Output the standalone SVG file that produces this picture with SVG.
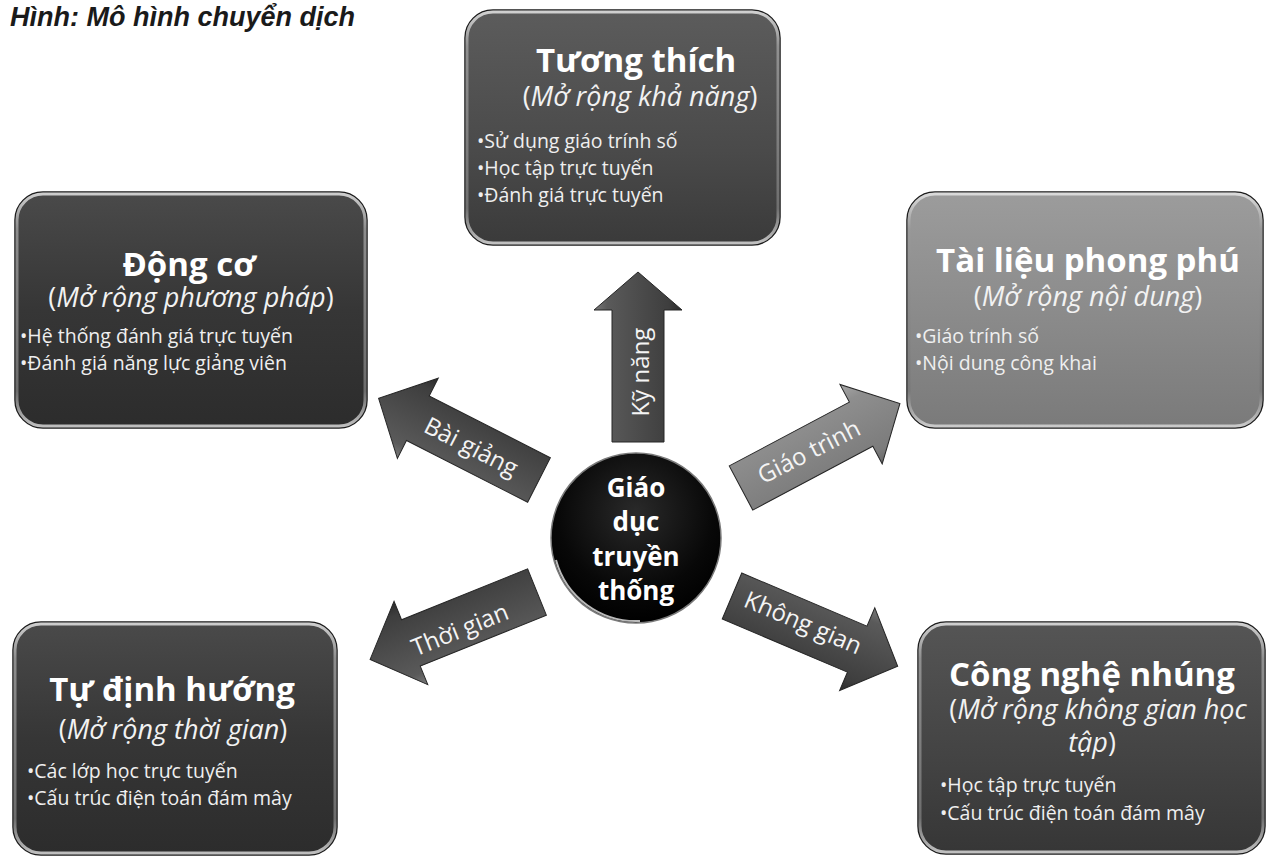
<svg xmlns="http://www.w3.org/2000/svg" width="1270" height="857" viewBox="0 0 1270 857">
<style>
.t{font-family:"Open Sans","Noto Sans","DejaVu Sans",sans-serif;fill:#ffffff}
.h{font-weight:700;font-size:33px;text-anchor:middle}
.s{font-size:27px;text-anchor:middle;fill:#f2f2f2}
.s .i{font-style:italic}
.b{font-size:19.5px;fill:#efefef}
.c{font-weight:700;font-size:26px;text-anchor:middle}
.a{font-size:24px;text-anchor:middle;fill:#f4f4f4}
.box{stroke:#1c1c1c;stroke-width:1.5}
.rim{fill:none;stroke:url(#rim);stroke-width:3;opacity:0.85}
.arr{stroke:#262626;stroke-width:1}
.title{font-family:"Liberation Sans",Arial,sans-serif;font-weight:700;font-style:italic;font-size:27px;fill:#1a1a1a}
</style>
<defs>
<linearGradient id="gDark" x1="0" y1="0" x2="0" y2="1">
<stop offset="0" stop-color="#4a4a4a"/><stop offset="0.5" stop-color="#363636"/><stop offset="1" stop-color="#2c2c2c"/>
</linearGradient>
<linearGradient id="gMid" x1="0" y1="0" x2="0" y2="1">
<stop offset="0" stop-color="#5c5c5c"/><stop offset="0.6" stop-color="#4a4a4a"/><stop offset="1" stop-color="#3a3a3a"/>
</linearGradient>
<linearGradient id="gMid2" x1="0" y1="0" x2="0" y2="1">
<stop offset="0" stop-color="#555"/><stop offset="0.6" stop-color="#434343"/><stop offset="1" stop-color="#363636"/>
</linearGradient>
<linearGradient id="gLight" x1="0" y1="0" x2="0" y2="1">
<stop offset="0" stop-color="#9c9c9c"/><stop offset="0.6" stop-color="#888"/><stop offset="1" stop-color="#7a7a7a"/>
</linearGradient>
<linearGradient id="rim" x1="0" y1="0" x2="0" y2="1">
<stop offset="0" stop-color="#e4e4e4"/><stop offset="0.15" stop-color="#9a9a9a"/><stop offset="0.85" stop-color="#777"/><stop offset="1" stop-color="#d8d8d8"/>
</linearGradient>
<linearGradient id="aDark" x1="0" y1="0" x2="0" y2="1">
<stop offset="0" stop-color="#7a7a7a"/><stop offset="0.15" stop-color="#5a5a5a"/><stop offset="0.85" stop-color="#3e3e3e"/><stop offset="1" stop-color="#2a2a2a"/>
</linearGradient>
<linearGradient id="aLight" x1="0" y1="0" x2="0" y2="1">
<stop offset="0" stop-color="#a8a8a8"/><stop offset="0.2" stop-color="#8e8e8e"/><stop offset="0.85" stop-color="#7c7c7c"/><stop offset="1" stop-color="#666"/>
</linearGradient>
<radialGradient id="gCircle" cx="0.5" cy="0.35" r="0.65">
<stop offset="0" stop-color="#2a2a2a"/><stop offset="0.7" stop-color="#080808"/><stop offset="1" stop-color="#000"/>
</radialGradient>
<path id="arrD" d="M0,-25 L136,-25 L136,-45 L180,0 L136,45 L136,25 L0,25 Z"/>
<path id="arrV" d="M0,-26 L132,-26 L132,-44 L170,0 L132,44 L132,26 L0,26 Z"/>
</defs>
<rect width="1270" height="857" fill="#ffffff"/>
<text class="title" x="10" y="26">Hình: Mô hình chuyển dịch</text>

<g id="connectors">
<g id="arrow-ky-nang">
<use href="#arrV" class="arr" fill="url(#aDark)" transform="translate(638,442) rotate(-90)"/>
<text class="t a" transform="translate(649,372) rotate(-90)" x="0" y="0">Kỹ năng</text>
</g>
<g id="arrow-bai-giang">
<use href="#arrD" class="arr" fill="url(#aDark)" transform="translate(539,480) rotate(207)"/>
<text class="t a" transform="translate(471,447) rotate(27)" x="0" y="8">Bài giảng</text>
</g>
<g id="arrow-giao-trinh">
<use href="#arrD" class="arr" fill="url(#aLight)" transform="translate(741,488) rotate(-28)"/>
<text class="t a" transform="translate(809,452) rotate(-27)" x="0" y="8">Giáo trình</text>
</g>
<g id="arrow-thoi-gian">
<use href="#arrD" class="arr" fill="url(#aDark)" transform="translate(537,592) rotate(158)"/>
<text class="t a" transform="translate(460,630) rotate(-22)" x="0" y="8">Thời gian</text>
</g>
<g id="arrow-khong-gian">
<use href="#arrD" class="arr" fill="url(#aDark)" transform="translate(732,596) rotate(23)"/>
<text class="t a" transform="translate(803,623) rotate(23)" x="0" y="8">Không gian</text>
</g>
</g>

<g id="center">
<circle cx="636" cy="538" r="85" fill="url(#gCircle)" stroke="#7a7a7a" stroke-width="1.5"/>
<path d="M556,560 A83,83 0 0 0 640,621" fill="none" stroke="#e8e8e8" stroke-width="2" opacity="0.8"/>
<text class="t c" x="636" y="497">Giáo</text>
<text class="t c" x="636" y="531">dục</text>
<text class="t c" x="636" y="566">truyền</text>
<text class="t c" x="636" y="600">thống</text>
</g>

<g id="node-tuong-thich">
<rect class="box" x="465" y="10" width="315" height="235" rx="28" fill="url(#gMid)"/>
<rect class="rim" x="467" y="12" width="311" height="231" rx="26"/>
<text class="t h" x="636" y="72">Tương thích</text>
<text class="t s" x="640" y="106">(<tspan class="i">Mở rộng khả năng</tspan>)</text>
<text class="t b" x="477" y="148">•Sử dụng giáo trính số</text>
<text class="t b" x="477" y="175">•Học tập trực tuyến</text>
<text class="t b" x="477" y="202">•Đánh giá trực tuyến</text>
</g>

<g id="node-dong-co">
<rect class="box" x="15" y="192" width="352" height="236" rx="28" fill="url(#gDark)"/>
<rect class="rim" x="17" y="194" width="348" height="232" rx="26"/>
<text class="t h" x="189" y="276">Động cơ</text>
<text class="t s" x="191" y="307">(<tspan class="i">Mở rộng phương pháp</tspan>)</text>
<text class="t b" x="20" y="343">•Hệ thống đánh giá trực tuyến</text>
<text class="t b" x="20" y="370">•Đánh giá năng lực giảng viên</text>
</g>

<g id="node-tai-lieu">
<rect class="box" x="907" y="192" width="356" height="236" rx="28" fill="url(#gLight)"/>
<rect class="rim" x="909" y="194" width="352" height="232" rx="26"/>
<text class="t h" x="1088" y="272">Tài liệu phong phú</text>
<text class="t s" x="1088" y="306">(<tspan class="i">Mở rộng nội dung</tspan>)</text>
<text class="t b" x="915" y="343">•Giáo trính số</text>
<text class="t b" x="915" y="370">•Nội dung công khai</text>
</g>

<g id="node-tu-dinh-huong">
<rect class="box" x="13" y="622" width="324" height="233" rx="28" fill="url(#gDark)"/>
<rect class="rim" x="15" y="624" width="320" height="229" rx="26"/>
<text class="t h" x="172" y="701">Tự định hướng</text>
<text class="t s" x="173" y="739">(<tspan class="i">Mở rộng thời gian</tspan>)</text>
<text class="t b" x="27" y="778">•Các lớp học trực tuyến</text>
<text class="t b" x="27" y="805">•Cấu trúc điện toán đám mây</text>
</g>

<g id="node-cong-nghe">
<rect class="box" x="918" y="622" width="347" height="232" rx="28" fill="url(#gMid2)"/>
<rect class="rim" x="920" y="624" width="343" height="228" rx="26"/>
<text class="t h" x="1092" y="686">Công nghệ nhúng</text>
<text class="t s" x="1098" y="719">(<tspan class="i">Mở rộng không gian học</tspan></text>
<text class="t s" x="1092" y="752"><tspan class="i">tập</tspan>)</text>
<text class="t b" x="940" y="792">•Học tập trực tuyến</text>
<text class="t b" x="940" y="820">•Cấu trúc điện toán đám mây</text>
</g>
</svg>
